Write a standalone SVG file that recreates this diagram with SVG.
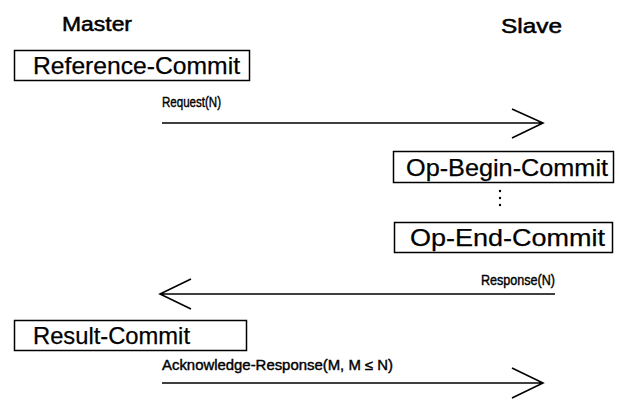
<svg xmlns="http://www.w3.org/2000/svg" width="619" height="404" viewBox="0 0 619 404">
<style>
text{font-family:"Liberation Sans",Arial,Helvetica,sans-serif;fill:#000}
.hdr{font-size:20px;stroke:#000;stroke-width:0.5}
.box{fill:#fff;stroke:#000;stroke-width:1.5}
.bt{font-size:24px;stroke:#000;stroke-width:0.25}
.lbl{font-size:14px;stroke:#000;stroke-width:0.4}
.ln{stroke:#000;stroke-width:1.6;fill:none}
</style>
<rect width="619" height="404" fill="#fff"/>
<g id="master-title"><text class="hdr" x="62" y="31" textLength="70" lengthAdjust="spacingAndGlyphs">Master</text></g>
<g id="slave-title"><text class="hdr" x="501" y="33" textLength="61" lengthAdjust="spacingAndGlyphs">Slave</text></g>
<g id="reference-commit">
<rect class="box" x="14.5" y="50.5" width="235" height="30"/>
<text class="bt" x="33" y="74" textLength="207" lengthAdjust="spacingAndGlyphs">Reference-Commit</text>
</g>
<g id="op-begin-commit">
<rect class="box" x="393.5" y="151.5" width="220" height="31"/>
<text class="bt" x="406" y="176" textLength="202" lengthAdjust="spacingAndGlyphs">Op-Begin-Commit</text>
</g>
<g id="op-ellipsis">
<circle cx="500" cy="191" r="1.2"/>
<circle cx="500" cy="198" r="1.2"/>
<circle cx="500" cy="205" r="1.2"/>
</g>
<g id="op-end-commit">
<rect class="box" x="394.5" y="222.5" width="218" height="30"/>
<text class="bt" x="410" y="246" textLength="195" lengthAdjust="spacingAndGlyphs">Op-End-Commit</text>
</g>
<g id="result-commit">
<rect class="box" x="14.5" y="320.5" width="232" height="30"/>
<text class="bt" x="33" y="344" textLength="157" lengthAdjust="spacingAndGlyphs">Result-Commit</text>
</g>
<g id="connectors">
<g id="request">
<path class="ln" d="M162 123 H543 M512 109 L543 123 L512 138"/>
<text class="lbl" x="162" y="107" textLength="59" lengthAdjust="spacingAndGlyphs">Request(N)</text>
</g>
<g id="response">
<path class="ln" d="M555 294 H160 M191 279 L160 294 L191 309"/>
<text class="lbl" x="481" y="285" textLength="74" lengthAdjust="spacingAndGlyphs">Response(N)</text>
</g>
<g id="acknowledge">
<path class="ln" d="M162 383 H543 M512 368 L543 383 L512 398"/>
<text class="lbl" x="162" y="370" textLength="231" lengthAdjust="spacingAndGlyphs">Acknowledge-Response(M, M ≤ N)</text>
</g>
</g>
</svg>
